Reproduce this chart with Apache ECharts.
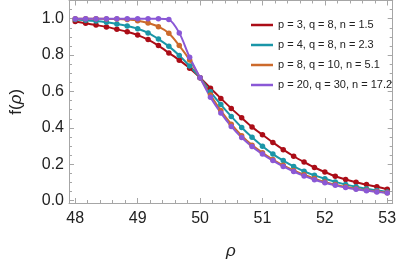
<!DOCTYPE html>
<html>
<head>
<meta charset="utf-8">
<script src="https://cdn.jsdelivr.net/npm/echarts@6/dist/echarts.min.js"></script>
<style>
html,body{margin:0;padding:0;background:#fff;}
#chart{width:399px;height:265px;}
</style>
</head>
<body>
<div id="chart"></div>
<script>
const rho = [48,48.167,48.333,48.5,48.667,48.833,49,49.167,49.333,49.5,49.667,49.833,50,50.167,50.333,50.5,50.667,50.833,51,51.167,51.333,51.5,51.667,51.833,52,52.167,52.333,52.5,52.667,52.833,53];
const fRed = [0.984,0.975,0.965,0.955,0.942,0.928,0.910,0.885,0.852,0.812,0.772,0.728,0.676,0.618,0.562,0.507,0.455,0.405,0.362,0.320,0.280,0.244,0.212,0.182,0.157,0.134,0.116,0.101,0.088,0.076,0.063];
const fTeal = [0.995,0.992,0.987,0.980,0.971,0.960,0.945,0.922,0.888,0.848,0.798,0.740,0.676,0.598,0.528,0.463,0.402,0.348,0.299,0.256,0.220,0.188,0.161,0.139,0.120,0.103,0.088,0.076,0.065,0.056,0.048];
const fOrange = [1.0,1.0,1.0,0.999,0.998,0.995,0.989,0.976,0.956,0.920,0.852,0.773,0.676,0.580,0.495,0.420,0.357,0.305,0.263,0.226,0.194,0.166,0.142,0.121,0.103,0.088,0.076,0.065,0.057,0.050,0.044];
const fPurple = [1.0,1.0,1.0,1.0,1.0,1.0,1.0,1.0,1.0,0.995,0.922,0.788,0.676,0.568,0.482,0.408,0.347,0.297,0.256,0.220,0.188,0.160,0.136,0.115,0.098,0.084,0.072,0.062,0.054,0.048,0.042];
const seriesNames = ['p = 3, q = 8, n = 1.5','p = 4, q = 8, n = 2.3','p = 8, q = 10, n = 5.1','p = 20, q = 30, n = 17.2'];
const seriesColors = ['#ab0d17','#1a96a8','#cc6a2c','#8a58d6'];
const xMajor = [48,49,50,51,52,53];
const yMajor = [0,0.2,0.4,0.6,0.8,1.0];
const xMinor = [];
for (let i = 0; i < 5; i++) for (let j = 1; j < 5; j++) xMinor.push(+(48 + i + j*0.2).toFixed(2));
const yMinor = [];
for (let v = 0.05; v < 1.1; v += 0.05) { const r = +v.toFixed(2); if (Math.abs(r*5 - Math.round(r*5)) > 1e-6) yMinor.push(r); }

const XMIN = 47.9, XMAX = 53.087, YMIN = -0.013, YMAX = 1.1;
const axisGray = '#a6a6a6';
const font = '"Liberation Sans", Arial, sans-serif';

function xAx(pos, ticks, len, showLine, showLabel, extra) {
  return Object.assign({
    type: 'value', position: pos, min: XMIN, max: XMAX,
    splitLine: {show: false},
    axisLine: {show: showLine, onZero: false, lineStyle: {color: axisGray, width: 1}},
    axisTick: {show: true, inside: true, length: len, customValues: ticks, lineStyle: {color: axisGray, width: 1}},
    axisLabel: showLabel ? {show: true, customValues: xMajor, color: '#222', fontSize: 16, fontFamily: font, margin: 8} : {show: false}
  }, extra || {});
}
function yAx(pos, ticks, len, showLine, showLabel, extra) {
  return Object.assign({
    type: 'value', position: pos, min: YMIN, max: YMAX,
    splitLine: {show: false},
    axisLine: {show: showLine, onZero: false, lineStyle: {color: axisGray, width: 1}},
    axisTick: {show: true, inside: true, length: len, customValues: ticks, lineStyle: {color: axisGray, width: 1}},
    axisLabel: showLabel ? {show: true, customValues: yMajor, color: '#222', fontSize: 16, fontFamily: font, margin: 5, formatter: v => v.toFixed(1)} : {show: false}
  }, extra || {});
}

const dataSets = [fRed, fTeal, fOrange, fPurple];
const series = dataSets.map((arr, i) => ({
  type: 'line', name: seriesNames[i], xAxisIndex: 0, yAxisIndex: 0,
  data: rho.map((x, k) => [x, arr[k]]),
  smooth: 0.3,
  symbol: 'circle', symbolSize: 5.5, showSymbol: true,
  lineStyle: {color: seriesColors[i], width: 2},
  itemStyle: {color: seriesColors[i]},
  emphasis: {disabled: true},
  animation: false
}));

const chart = echarts.init(document.getElementById('chart'), null, {renderer: 'canvas'});
chart.setOption({
  animation: false,
  grid: {left: 59, right: 6, top: 0.5, bottom: 58.5, containLabel: false},
  legend: {
    orient: 'vertical', left: 246, top: 14,
    icon: 'rect', itemWidth: 22, itemHeight: 2.5, itemGap: 8,
    textStyle: {fontSize: 11, fontFamily: font, color: '#222', lineHeight: 12},
    data: seriesNames
  },
  xAxis: [
    xAx('bottom', xMajor, 5, true, true, {
      name: 'ρ', nameLocation: 'middle', nameGap: 40,
      nameTextStyle: {fontSize: 17, fontStyle: 'italic', fontFamily: font, color: '#222'}
    }),
    xAx('bottom', xMinor, 3, false, false),
    xAx('top', xMajor, 5, true, false),
    xAx('top', xMinor, 3, false, false)
  ],
  yAxis: [
    yAx('left', yMajor, 5, true, true, {
      name: '{a|f(}{b|ρ}{a|)}', nameLocation: 'middle', nameGap: 44, nameRotate: 90,
      nameTextStyle: {fontSize: 17, fontFamily: font, color: '#222',
        rich: {a: {fontSize: 17, fontFamily: font, color: '#222'}, b: {fontSize: 17, fontStyle: 'italic', fontFamily: font, color: '#222'}}}
    }),
    yAx('left', yMinor, 3, false, false),
    yAx('right', yMajor, 5, true, false),
    yAx('right', yMinor, 3, false, false)
  ],
  series: series
});
</script>
</body>
</html>
